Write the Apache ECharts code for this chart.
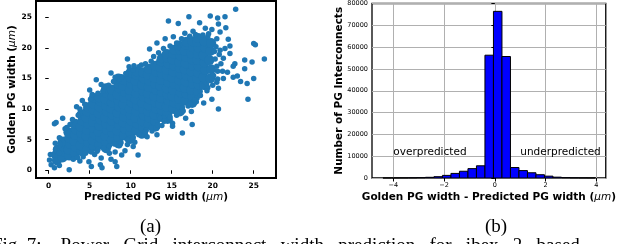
<!DOCTYPE html>
<html>
<head>
<meta charset="utf-8">
<title>PG width prediction</title>
<script src="https://cdn.jsdelivr.net/npm/echarts@6/dist/echarts.min.js"></script>
<style>
    html, body { margin: 0; background: #fff; }
    #container { width: 619px; height: 244px; }
</style>
</head>
<body>
<div id="container"></div>
<script>
// (a) predicted vs golden width
// dense middle of the cloud (thousands of overlapping dots there)
var coreCloud = [
    [1.0,1.6],[0.9,2.5],[1.1,3.4],
    [1.7,2.1],[1.6,3.0],[1.8,3.9],[1.7,4.7],
    [2.5,2.4],[2.4,3.4],[2.6,4.3],[2.5,5.3],[2.4,6.2],
    [3.2,2.8],[3.3,3.8],[3.1,4.8],[3.2,5.8],[3.3,6.7],[3.2,7.6],
    [4.0,3.1],[3.9,4.1],[4.1,5.1],[4.0,6.1],[3.9,7.1],[4.1,8.1],[4.0,9.1],
    [4.7,3.5],[4.8,4.6],[4.6,5.6],[4.7,6.6],[4.8,7.6],[4.6,8.6],[4.7,9.6],[4.8,10.3],
    [5.5,3.9],[5.4,4.9],[5.6,5.9],[5.5,6.9],[5.4,7.9],[5.6,8.9],[5.5,9.9],[5.4,10.9],[5.5,11.8],
    [6.2,4.2],[6.3,5.3],[6.1,6.3],[6.2,7.3],[6.3,8.3],[6.1,9.3],[6.2,10.3],[6.3,11.3],[6.2,11.9],
    [7.0,3.6],[7.0,4.6],[6.9,5.6],[7.1,6.6],[7.0,7.6],[6.9,8.6],[7.1,9.6],[7.0,10.6],[6.9,11.6],[7.1,12.6],[7.0,13.4],
    [7.7,5.0],[7.8,6.1],[7.6,7.1],[7.7,8.1],[7.8,9.1],[7.6,10.1],[7.7,11.1],[7.8,12.1],[7.7,13.2],
    [8.5,4.4],[8.5,5.4],[8.4,6.4],[8.6,7.4],[8.5,8.4],[8.4,9.4],[8.6,10.4],[8.5,11.4],[8.4,12.4],[8.6,13.4],[8.5,14.1],[8.5,15.0],
    [9.2,5.7],[9.3,6.8],[9.1,7.8],[9.2,8.8],[9.3,9.8],[9.1,10.8],[9.2,11.8],[9.3,12.8],[9.1,13.8],[9.2,14.7],
    [10.0,5.1],[10.0,6.1],[9.9,7.1],[10.1,8.1],[10.0,9.1],[9.9,10.1],[10.1,11.1],[10.0,12.1],[9.9,13.1],[10.1,14.1],[10.0,15.1],[10.0,16.0],
    [10.7,6.5],[10.8,7.6],[10.6,8.6],[10.7,9.6],[10.8,10.6],[10.6,11.6],[10.7,12.6],[10.8,13.6],[10.6,14.6],[10.7,15.6],[10.8,16.1],
    [11.5,6.0],[11.5,7.0],[11.4,8.0],[11.6,9.0],[11.5,10.0],[11.4,11.0],[11.6,12.0],[11.5,13.0],[11.4,14.0],[11.6,15.0],[11.5,16.0],
    [12.2,7.5],[12.3,8.6],[12.1,9.6],[12.2,10.6],[12.3,11.6],[12.1,12.6],[12.2,13.6],[12.3,14.6],[12.1,15.6],[12.2,16.6],
    [13.0,7.1],[13.0,8.1],[12.9,9.1],[13.1,10.1],[13.0,11.1],[12.9,12.1],[13.1,13.1],[13.0,14.1],[12.9,15.1],[13.1,16.1],[13.0,17.1],
    [13.7,8.7],[13.8,9.8],[13.6,10.8],[13.7,11.8],[13.8,12.8],[13.6,13.8],[13.7,14.8],[13.8,15.8],[13.6,16.8],[13.7,17.8],[13.8,18.3],
    [14.5,8.4],[14.5,9.4],[14.4,10.4],[14.6,11.4],[14.5,12.4],[14.4,13.4],[14.6,14.4],[14.5,15.4],[14.4,16.4],[14.6,17.4],[14.5,18.4],[14.4,19.0],
    [15.2,10.0],[15.3,11.1],[15.1,12.1],[15.2,13.1],[15.3,14.1],[15.1,15.1],[15.2,16.1],[15.3,17.1],[15.1,18.1],[15.2,19.1],[15.3,19.7],
    [16.0,9.6],[16.0,10.7],[15.9,11.7],[16.1,12.7],[16.0,13.7],[15.9,14.7],[16.1,15.7],[16.0,16.7],[15.9,17.7],[16.1,18.7],[16.0,19.7],[15.9,20.4],
    [16.7,11.4],[16.8,12.5],[16.6,13.5],[16.7,14.5],[16.8,15.5],[16.6,16.5],[16.7,17.5],[16.8,18.5],[16.6,19.5],[16.7,20.5],[16.8,21.0],
    [17.5,11.0],[17.5,12.1],[17.4,13.1],[17.6,14.1],[17.5,15.1],[17.4,16.1],[17.6,17.1],[17.5,18.1],[17.4,19.1],[17.6,20.1],[17.5,21.1],
    [18.2,12.9],[18.3,14.0],[18.1,15.0],[18.2,16.0],[18.3,17.0],[18.1,18.0],[18.2,19.0],[18.3,20.0],[18.1,21.0],[18.2,21.6],
    [19.0,13.9],[18.9,15.2],[19.1,16.4],[19.0,17.6],[18.9,18.8],[19.1,20.0],[19.0,21.1],
    [19.7,15.0],[19.8,16.5],[19.6,18.0],[19.7,19.5],[19.8,20.8]
];
// sparse dots around the cloud
var outerPoints = [
    [22.8,26.3],[19.7,25.2],[20.6,24.9],[21.5,25.1],[17.1,25.1],[14.6,24.4],[15.8,24.0],[18.4,24.1],
    [20.7,23.9],[19.1,23.2],[19.9,23.0],[20.9,22.6],[21.6,23.3],[12.3,19.8],[14.2,21.5],[15.2,21.8],
    [13.2,20.8],[16.6,22.4],[17.6,22.7],[21.9,21.4],[22.1,20.3],[22.1,19.1],[22.7,17.4],[22.5,17.0],
    [23.9,18.0],[24.8,17.7],[26.3,18.2],[25.0,20.7],[25.2,20.5],[23.9,16.6],[23.0,15.4],[23.4,14.5],
    [24.2,14.2],[25.0,15.0],[24.3,11.6],[20.7,13.4],[20.7,10.0],[19.9,11.6],[18.9,11.0],[18.1,11.8],
    [17.4,9.6],[17.5,7.5],[16.3,6.1],[16.7,8.5],[15.1,7.7],[15.1,7.2],[14.0,8.5],[13.2,5.8],
    [12.0,5.5],[10.9,2.5],[10.3,3.9],[9.3,3.2],[8.3,0.6],[8.1,1.4],[6.3,0.9],[6.5,0.4],
    [5.2,0.6],[3.8,1.5],[2.5,0.1],[1.3,0.8],[0.7,0.4],[0.3,0.9],[0.1,1.7],[0.8,1.7],
    [1.3,2.8],[0.8,4.4],[1.4,4.2],[0.7,7.6],[0.9,7.8],[1.7,8.5],[2.6,7.5],[3.4,10.4],
    [4.1,11.4],[5.0,13.1],[5.8,14.8],[6.8,13.6],[7.6,15.9],[8.6,14.9],[9.6,18.2],[10.3,16.4],
    [11.3,17.2],[1.3,5.3],[2.0,6.8],[0.2,2.6],[5.9,3.1],[7.4,2.8],[8.6,4.0],[9.9,5.2],
    [11.9,6.6],[13.6,8.5],[18.5,21.8],[20.1,20.7],[20.9,19.6],[21.3,18.3],[20.5,17.0],[21.8,16.0],
    [20.1,15.5],[20.5,14.4],[22.5,15.2],[18.7,13.7],[20.3,18.2],[20.6,16.2],[21.0,17.4],[19.4,13.5],
    [21.3,15.0],[20.4,20.2],[3.0,1.8],[4.2,2.2],[4.9,1.4],[5.6,2.6],[6.4,2.0],[7.0,3.3],
    [7.6,1.8],[8.1,3.0],[8.9,2.5],[9.6,4.2],[10.5,4.6],[11.3,5.6],[12.6,6.4],[13.8,7.3],
    [14.8,8.2],[15.6,9.0],[16.4,9.7],[17.2,10.8],[18.0,11.2],
    [2.2,7.0],[2.9,8.3],[3.6,9.0],[3.8,10.0],[4.4,10.8],[5.1,11.6],[5.3,12.4],[6.0,12.6],
    [6.6,12.9],[6.4,14.0],[7.3,13.9],[7.9,14.5],[8.1,15.2],[8.9,15.3],[9.4,15.8],[9.8,16.9],
    [10.4,17.1],[11.0,16.9],[11.8,17.4],[12.5,17.8],[12.8,18.6],[13.4,19.2],[14.0,19.9],[14.8,20.3],
    [15.6,20.8],[16.2,21.5],[17.2,21.9],[17.9,22.2],[18.8,22.1],[19.4,21.8],
    [3.5,2.1],[4.5,2.8],[5.2,3.0],[6.0,3.4],[6.7,3.6],[7.4,4.0],[8.0,4.3],[8.8,4.6],
    [9.6,5.0],[10.3,5.4],[11.0,5.8],[11.8,6.3],[12.5,6.9],[13.3,7.4],[14.1,8.0],[14.8,8.7],
    [15.6,9.4],[16.3,10.2],[17.0,10.5],[17.8,11.5],[18.5,12.2],[19.3,13.0],[20.0,13.9],[20.6,14.9],
    [21.2,16.2],[20.8,18.9],[20.2,19.4],[21.5,19.9],[19.5,22.3],[20.5,21.5]
];
var scatterTicks = [0, 5, 10, 15, 20, 25];

// (b) histogram of golden - predicted
var binEdges = [-4.41, -4.075, -3.74, -3.405, -3.07, -2.735, -2.40, -2.065, -1.73, -1.395,
    -1.06, -0.725, -0.39, -0.055, 0.28, 0.615, 0.95, 1.285, 1.62, 1.955,
    2.29, 2.625, 2.96, 3.295, 3.63, 3.965];
var binCounts = [5, 10, 25, 60, 150, 320, 600, 1200, 2100, 3100,
    4300, 5600, 56300, 76400, 55700, 4800, 3400, 2400, 1500, 850,
    380, 160, 60, 20, 5];
var histTicks = [-4, -2, 0, 2, 4];
var noteLabels = ['overpredicted', 'underpredicted'];
var noteX = [-4, 1];
var noteY = [10000, 10000];

var histData = binCounts.map(function (c, i) {
    return [binEdges[i], binEdges[i + 1], c];
});
var noteData = noteX.map(function (x, i) {
    return [x, noteY[i]];
});

var font = 'DejaVu Sans';
var nameRich = {
    b: {fontFamily: font, fontWeight: 'bold', fontSize: 10.5, color: '#000'},
    i: {fontFamily: font, fontStyle: 'italic', fontSize: 10.5, color: '#000'}
};
function minus(v) {
    return v < 0 ? '\u2212' + Math.abs(v) : String(v);
}

var chart = echarts.init(document.getElementById('container'), null, {renderer: 'canvas'});
var option = {
    animation: false,
    backgroundColor: '#fff',
    grid: [
        {left: 36, top: 1, width: 240, height: 177, show: true, borderColor: '#000', borderWidth: 2, backgroundColor: 'transparent'},
        {left: 372, top: 1, width: 238, height: 177, show: true, borderColor: '#000', borderWidth: 1.3, backgroundColor: 'transparent'}
    ],
    xAxis: [
        {
            gridIndex: 0, type: 'value', min: -1.55, max: 27.72,
            name: '{b|Predicted PG width (}{i|μm}{b|)}', nameLocation: 'middle', nameGap: 13.5, nameMoveOverlap: false,
            nameTextStyle: {rich: nameRich},
            axisLine: {show: false},
            axisTick: {show: true, length: 3.5, lineStyle: {color: '#000'}, customValues: scatterTicks},
            axisLabel: {customValues: scatterTicks, margin: 4, fontFamily: font, fontWeight: 'bold', fontSize: 7.5, color: '#000'},
            splitLine: {show: false}
        },
        {
            gridIndex: 1, type: 'value', min: -4.84, max: 4.37,
            name: '{b|Golden PG width - Predicted PG width (}{i|μm}{b|)}', nameLocation: 'middle', nameGap: 13.5, nameMoveOverlap: false,
            nameTextStyle: {rich: nameRich},
            axisLine: {show: false},
            axisTick: {show: true, length: 3.5, lineStyle: {color: '#000'}, customValues: histTicks},
            axisLabel: {customValues: histTicks, margin: 4, fontFamily: font, fontSize: 6.5, color: '#000', formatter: minus},
            splitLine: {show: true, lineStyle: {color: '#b0b0b0', width: 1}}
        }
    ],
    yAxis: [
        {
            gridIndex: 0, type: 'value', min: -1.26, max: 27.66,
            name: '{b|Golden PG width (}{i|μm}{b|)}', nameLocation: 'middle', nameGap: 18, nameMoveOverlap: false,
            nameTextStyle: {rich: nameRich},
            axisLine: {show: false},
            axisTick: {show: true, length: 3.5, lineStyle: {color: '#000'}, customValues: scatterTicks},
            axisLabel: {customValues: scatterTicks, margin: 4, fontFamily: font, fontWeight: 'bold', fontSize: 7.5, color: '#000'},
            splitLine: {show: false}
        },
        {
            gridIndex: 1, type: 'value', min: 0, max: 80000, interval: 10000,
            name: '{b|Number of PG Interconnects}', nameLocation: 'middle', nameGap: 27, nameMoveOverlap: false,
            nameTextStyle: {rich: nameRich},
            axisLine: {show: false},
            axisTick: {show: true, length: 3.5, lineStyle: {color: '#000'}},
            axisLabel: {margin: 4, fontFamily: font, fontSize: 6.5, color: '#000', formatter: function (v) { return String(v); }},
            splitLine: {show: true, lineStyle: {color: '#b0b0b0', width: 1}}
        }
    ],
    series: [
        {
            type: 'scatter', xAxisIndex: 0, yAxisIndex: 0,
            data: coreCloud, symbolSize: 10,
            itemStyle: {color: '#1f77b4', opacity: 1}
        },
        {
            type: 'scatter', xAxisIndex: 0, yAxisIndex: 0,
            data: outerPoints, symbolSize: 5.5,
            itemStyle: {color: '#1f77b4', opacity: 1}
        },
        {
            type: 'custom', xAxisIndex: 1, yAxisIndex: 1,
            data: histData,
            encode: {x: [0, 1], y: 2},
            renderItem: function (params, api) {
                var p0 = api.coord([api.value(0), api.value(2)]);
                var p1 = api.coord([api.value(1), 0]);
                return {
                    type: 'rect',
                    shape: {x: p0[0], y: p0[1], width: p1[0] - p0[0], height: p1[1] - p0[1]},
                    style: {fill: '#0000ff', stroke: '#000', lineWidth: 1}
                };
            }
        },
        {
            type: 'custom', xAxisIndex: 1, yAxisIndex: 1, silent: true,
            data: noteData,
            renderItem: function (params, api) {
                var p = api.coord([api.value(0), api.value(1)]);
                return {
                    type: 'text', x: p[0], y: p[1] - 3.6,
                    style: {text: noteLabels[params.dataIndex], fill: '#000', font: '10.5px "DejaVu Sans"', verticalAlign: 'middle'}
                };
            }
        }
    ],
    graphic: [
        {type: 'text', left: 152 - 12, top: 218, style: {text: '(a)', font: '19px "Liberation Serif"', fill: '#000'}},
        {type: 'text', left: 497 - 12, top: 218, style: {text: '(b)', font: '19px "Liberation Serif"', fill: '#000'}},
        {type: 'text', left: -8, top: 237, style: {text: 'Fig. 7:    Power   Grid   interconnect   width   prediction   for   ibex   2   based', font: '19px "Liberation Serif"', fill: '#000'}}
    ]
};
chart.setOption(option);
</script>
</body>
</html>
